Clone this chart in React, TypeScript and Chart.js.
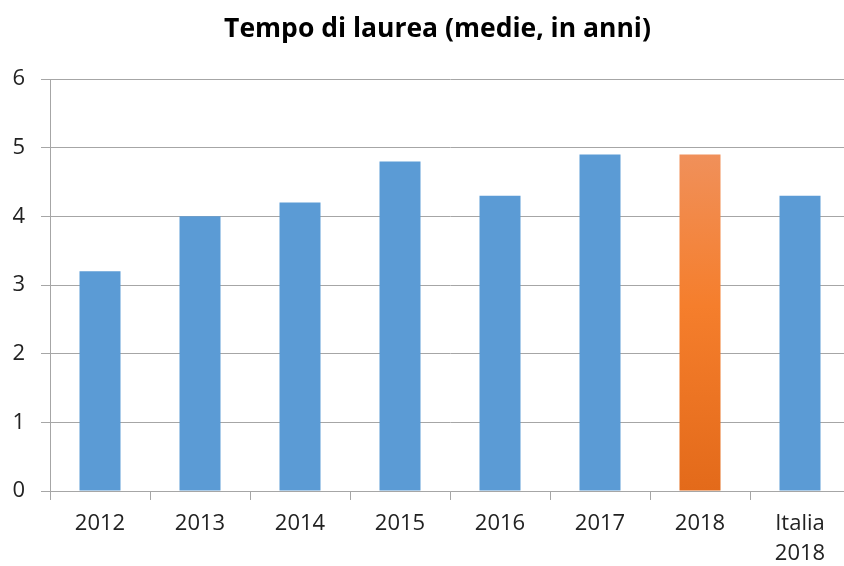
import React, { useEffect, useRef } from "react";
import { Chart, registerables } from "chart.js";

Chart.register(...registerables);

const categories: (string | string[])[] = ["2012", "2013", "2014", "2015", "2016", "2017", "2018", ["Italia", "2018"]];
const values: number[] = [3.2, 4.0, 4.2, 4.8, 4.3, 4.9, 4.9, 4.3];
const highlightIndex = 6;
const yTicks: number[] = [0, 1, 2, 3, 4, 5, 6];
const title = "Tempo di laurea (medie, in anni)";

const BLUE = "#5B9BD5";
const FONT = "'Open Sans', 'Noto Sans', sans-serif";

const titlePlugin = {
  id: "customTitle",
  afterDraw(chart: any) {
    const ctx = chart.ctx;
    ctx.save();
    ctx.font = `bold 26.5px ${FONT}`;
    ctx.fillStyle = "#000000";
    ctx.textAlign = "center";
    ctx.textBaseline = "middle";
    ctx.fillText(title, (chart.width + 25) / 2, 29);
    ctx.restore();
  },
};

export default function App() {
  const ref = useRef<HTMLCanvasElement | null>(null);

  useEffect(() => {
    document.body.style.margin = "0";
    document.documentElement.style.overflow = "hidden";
    document.body.style.overflow = "hidden";
    const canvas = ref.current;
    if (!canvas) return;
    const chart = new Chart(canvas, {
      type: "bar",
      data: {
        labels: categories,
        datasets: [
          {
            data: values,
            backgroundColor: (ctx: any) => {
              const c = ctx.chart;
              if (ctx.dataIndex !== highlightIndex) return BLUE;
              const ys = c.scales && c.scales.y;
              if (!ys || !c.chartArea) return "#F07F2E";
              const top = ys.getPixelForValue(values[highlightIndex]);
              const bottom = ys.getPixelForValue(0);
              const g = c.ctx.createLinearGradient(0, top, 0, bottom);
              g.addColorStop(0, "#F0905A");
              g.addColorStop(0.45, "#F57E2C");
              g.addColorStop(1, "#E36A1A");
              return g;
            },
            borderWidth: 0,
            barPercentage: 0.41,
            categoryPercentage: 1,
          },
        ],
      },
      plugins: [titlePlugin],
      options: {
        responsive: false,
        animation: false,
        layout: { padding: { left: 12, right: 0, top: 79, bottom: 0 } },
        plugins: {
          legend: { display: false },
          tooltip: { enabled: false },
          title: { display: false },
        },
        scales: {
          x: {
            afterFit: (a: any) => {
              a.height = 75;
            },
            grid: {
              display: true,
              drawOnChartArea: false,
              drawTicks: true,
              tickLength: 9,
              color: "#A6A6A6",
              offset: true,
            },
            border: { display: true, color: "#A6A6A6", width: 1 },
            ticks: {
              color: "#222222",
              font: { family: FONT, size: 22, lineHeight: 1.36 },
              padding: 9,
              maxRotation: 0,
              autoSkip: false,
            },
          },
          y: {
            min: 0,
            max: 6,
            afterFit: (a: any) => {
              a.width = 38;
            },
            afterBuildTicks: (axis: any) => {
              axis.ticks = yTicks.map((v) => ({ value: v }));
            },
            grid: {
              color: "#A6A6A6",
              tickLength: 9,
              lineWidth: 1,
            },
            border: { display: true, color: "#A6A6A6", width: 1 },
            ticks: {
              color: "#222222",
              font: { family: FONT, size: 22 },
              padding: 16,
            },
          },
        },
      },
    });
    return () => chart.destroy();
  }, []);

  return (
    <div style={{ width: 850, height: 566, overflow: "hidden" }}>
      <canvas ref={ref} width={850} height={566} />
    </div>
  );
}
